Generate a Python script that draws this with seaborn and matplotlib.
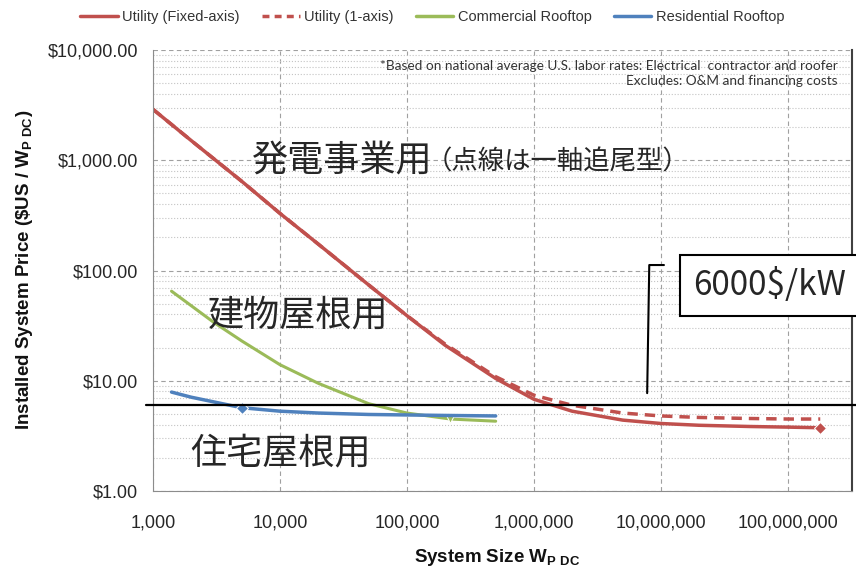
import numpy as np
import pandas as pd
import matplotlib
matplotlib.use("Agg")
import matplotlib.pyplot as plt
import seaborn as sns
from matplotlib.lines import Line2D
from matplotlib.ticker import FuncFormatter, LogLocator, NullFormatter

# system size (W) and installed price ($/W)
utility_x = [1e3, 2e3, 5e3, 1e4, 2e4, 5e4, 1e5, 2e5, 5e5, 1e6, 2e6, 5e6, 1e7, 2e7, 5e7, 1e8, 1.8e8]
utility_fixed = [2900, 1510, 645, 330, 174, 74, 39, 21, 10.5, 6.8, 5.3, 4.4, 4.1, 3.95, 3.85, 3.8, 3.75]
utility_1axis = [2900, 1510, 645, 330, 174, 74, 39, 21.5, 10.9, 7.4, 6.0, 5.1, 4.8, 4.65, 4.55, 4.5, 4.5]

commercial_x = [1.4e3, 2e3, 3e3, 5e3, 1e4, 2e4, 5e4, 1e5, 2.2e5, 5e5]
commercial = [65, 48, 34, 23, 14, 9.5, 6.2, 5.1, 4.5, 4.3]

residential_x = [1.4e3, 2e3, 5e3, 1e4, 2e4, 5e4, 1e5, 2e5, 5e5]
residential = [7.9, 7.1, 5.7, 5.3, 5.1, 4.95, 4.9, 4.85, 4.8]

series_names = ["Utility (Fixed-axis)", "Utility (1-axis)", "Commercial Rooftop", "Residential Rooftop"]
colors = ["#c0504d", "#c0504d", "#9bbb59", "#4f81bd"]

budget_line = 6.0  # 6000 $/kW
budget_label = "6000$/kW"

sns.set_style("white")
plt.rcParams["font.family"] = ["Liberation Sans", "DejaVu Sans"]
plt.rcParams["mathtext.fontset"] = "custom"
plt.rcParams["mathtext.rm"] = "Liberation Sans"
plt.rcParams["mathtext.bf"] = "Liberation Sans:bold"
cjk = ["Noto Sans CJK JP", "DejaVu Sans"]

fig = plt.figure(figsize=(8.56, 5.75), dpi=100)
ax = fig.add_axes([0.1787, 0.146, 0.8166, 0.767])

sns.lineplot(x=utility_x, y=utility_1axis, ax=ax, color=colors[1], lw=2.5,
             linestyle=(0, (3, 2)))
sns.lineplot(x=utility_x, y=utility_fixed, ax=ax, color=colors[0], lw=2.5,
             marker="D", markersize=6, markevery=[len(utility_x) - 1])
sns.lineplot(x=commercial_x, y=commercial, ax=ax, color=colors[2], lw=2.2,
             marker="v", markersize=6, markevery=[8])
sns.lineplot(x=residential_x, y=residential, ax=ax, color=colors[3], lw=2.5,
             marker="D", markersize=6, markevery=[2])

ax.set_xscale("log")
ax.set_yscale("log")
ax.set_xlim(1e3, 3.2e8)
ax.set_ylim(1, 1e4)

ax.yaxis.set_major_formatter(FuncFormatter(lambda v, p: f"${v:,.2f}"))
ax.xaxis.set_major_formatter(FuncFormatter(lambda v, p: f"{v:,.0f}"))
ax.yaxis.set_minor_locator(LogLocator(base=10, subs=np.arange(2, 10)))
ax.yaxis.set_minor_formatter(NullFormatter())
ax.xaxis.set_minor_formatter(NullFormatter())
ax.tick_params(axis="y", which="major", direction="inout", length=7, color="#888888",
               labelsize=13, labelcolor="#262626", pad=7)
ax.tick_params(axis="y", which="minor", direction="inout", length=4, color="#999999")
ax.tick_params(axis="x", which="major", direction="inout", length=0,
               labelsize=13, labelcolor="#262626", pad=17)
ax.tick_params(axis="x", which="minor", length=0)

ax.grid(which="major", axis="both", ls=(0, (4, 3)), color="#a0a0a0", lw=0.8)
ax.yaxis.grid(True, which="minor", ls=":", color="#c4c4c4", lw=0.8)
ax.xaxis.grid(False, which="minor")

for side in ["left", "bottom"]:
    ax.spines[side].set_color("#8c8c8c")
ax.spines["top"].set_visible(False)
ax.spines["right"].set_color("#404040")
ax.spines["right"].set_linewidth(1.5)

# 6000 $/kW reference line and callout
ax.axhline(budget_line, xmin=-0.01, xmax=1.01, color="black", lw=1.6, clip_on=False, zorder=5)
ax.plot([0.707, 0.710, 0.731], [0.222, 0.5125, 0.5125], transform=ax.transAxes,
        color="black", lw=1.5)
ax.text(0.7725, 0.466, budget_label, transform=ax.transAxes, fontsize=24, family=cjk,
        va="center", ha="left", clip_on=False,
        bbox=dict(boxstyle="square,pad=0.4", fc="white", ec="black", lw=1.5))

# Japanese annotations
ax.text(0.1416, 0.7506, "発電事業用", transform=ax.transAxes, fontsize=26, family=cjk, va="center")
ax.text(0.39, 0.746, "（点線は一軸追尾型）", transform=ax.transAxes, fontsize=19, family=cjk, va="center")
ax.text(0.0787, 0.399, "建物屋根用", transform=ax.transAxes, fontsize=26, family=cjk, va="center")
ax.text(0.0529, 0.0862, "住宅屋根用", transform=ax.transAxes, fontsize=26, family=cjk, va="center")

ax.text(0.98, 0.978,
        "*Based on national average U.S. labor rates: Electrical  contractor and roofer\n"
        "Excludes: O&M and financing costs",
        transform=ax.transAxes, ha="right", va="top", fontsize=9.8, family="Lato",
        color="#333333", linespacing=1.3)

fig.text(0.029, 0.53, r"Installed System Price (\$US / W$_{\mathbf{P\ DC}}$)", rotation=90,
         ha="center", va="center", fontsize=13.5, fontweight="bold", color="#111111")
fig.text(0.581, 0.031, r"System Size W$_{\mathbf{P\ DC}}$", ha="center", va="center",
         fontsize=13.5, fontweight="bold", color="#111111")

handles = [
    Line2D([], [], color=colors[0], lw=2.5),
    Line2D([], [], color=colors[1], lw=2.5, ls=(0, (2, 1.5))),
    Line2D([], [], color=colors[2], lw=2.5),
    Line2D([], [], color=colors[3], lw=2.5),
]
if ax.get_legend() is not None:
    ax.get_legend().remove()
fig.legend(handles, series_names, loc="center", bbox_to_anchor=(0.505, 0.97), ncol=4,
           frameon=False, fontsize=10.5, handlelength=2.6, handletextpad=0.3,
           columnspacing=1.5, labelcolor="#333333")

fig.savefig("out.png", dpi=100)
